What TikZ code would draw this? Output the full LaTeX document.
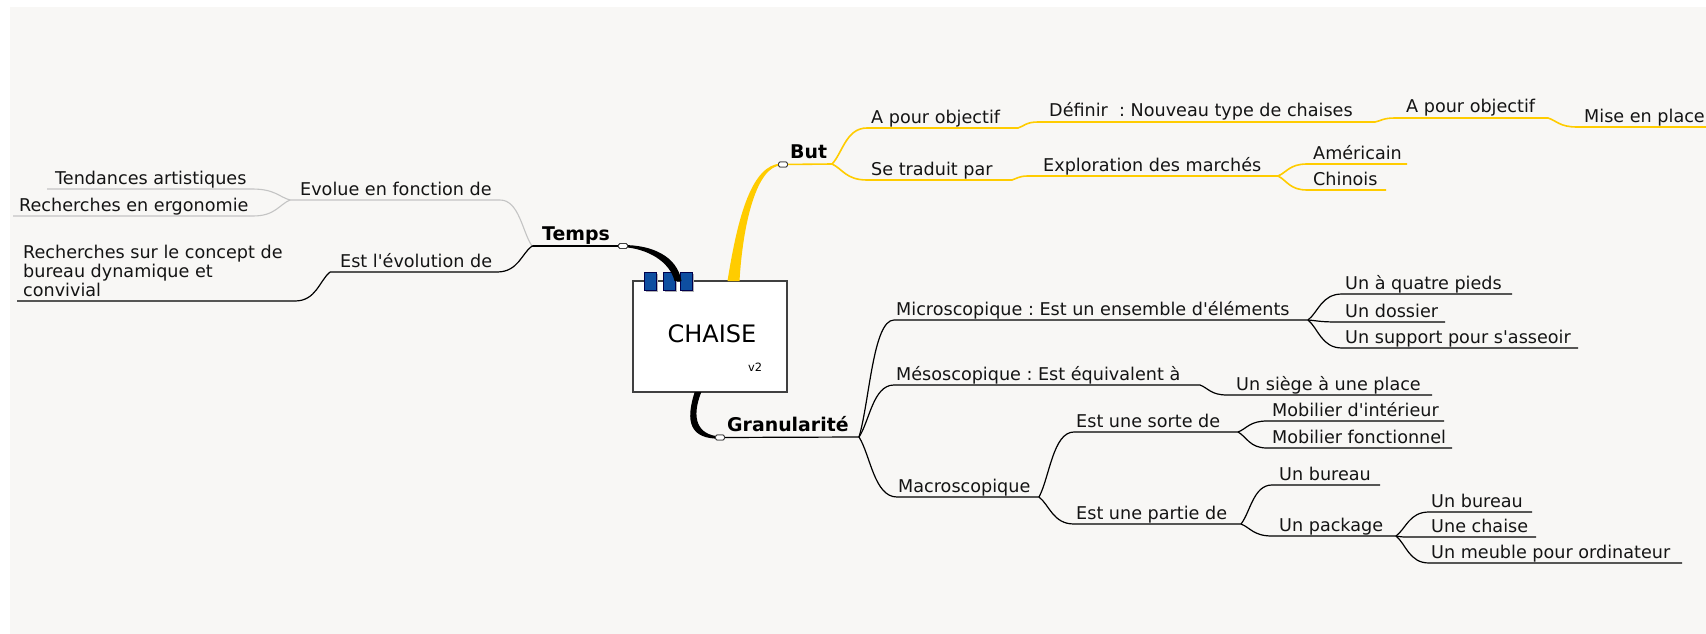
\documentclass[tikz,border=0pt]{standalone}
\usepackage{fontspec}
\setmainfont{DejaVu Sans}[Ligatures=TeXOff]
\usetikzlibrary{calc}
\definecolor{bgc}{RGB}{248,247,245}
\definecolor{yel}{RGB}{255,204,0}
\definecolor{gry}{RGB}{196,196,196}
\definecolor{blu}{RGB}{14,78,160}
\definecolor{txt}{RGB}{20,20,20}
\newcommand\labfont{\fontsize{17.6}{21}\selectfont\frenchspacing}
\newcommand\boldlabfont{\fontsize{18.9}{22}\selectfont\bfseries}
\tikzset{
 lbl/.style={font=\labfont, text=txt, anchor=base west, inner sep=0pt},
 blbl/.style={font=\boldlabfont, text=black, anchor=base west, inner sep=0pt},
 ln/.style={draw=black, line width=1.2pt},
 yl/.style={draw=yel, line width=1.6pt},
 gl/.style={draw=gry, line width=1.1pt},
 br/.style={to path={.. controls ($(\tikztostart)!0.3!(\tikztotarget)$) and ($(\tikztotarget)!0.6!(\tikztostart|-\tikztotarget)$) .. (\tikztotarget) \tikztonodes}},
 knob/.style={draw=black!75, fill=white, rounded corners=1.5pt, minimum width=9pt, minimum height=5pt, inner sep=0pt, line width=0.8pt},
 sqr/.style={draw=black!70!blue, fill=blu, line width=0.8pt},
 sqsh/.style={fill=black!30},
}
\begin{document}
\begin{tikzpicture}[x=1pt,y=-1pt]
\useasboundingbox (0,0) rectangle (1706,634);
\fill[bgc] (10,7) rectangle (1706,634);

% ---------- coordinates ----------
% Temps side
\coordinate (tf) at (532,246);
\coordinate (evL) at (290,200); \coordinate (evR) at (500,200);
\coordinate (taL) at (47,189);  \coordinate (taR) at (252,189);
\coordinate (reL) at (13,216);  \coordinate (reR) at (253,216);
\coordinate (esL) at (330,272); \coordinate (esR) at (497,272);
\coordinate (rcL) at (17,301);  \coordinate (rcR) at (295,301);
% But side
\coordinate (bf) at (832,164);
\coordinate (ap1L) at (867,128); \coordinate (ap1R) at (1018,128);
\coordinate (dfL) at (1038,122); \coordinate (dfR) at (1375,122);
\coordinate (ap2L) at (1395,118); \coordinate (ap2R) at (1548,118);
\coordinate (miL) at (1577,127); \coordinate (miR) at (1706,127);
\coordinate (stL) at (867,180); \coordinate (stR) at (1012,180);
\coordinate (exL) at (1028,176); \coordinate (exR) at (1278,176);
\coordinate (amL) at (1307,164); \coordinate (amR) at (1407,164);
\coordinate (chL) at (1307,190); \coordinate (chR) at (1386,190);
% Granularite side
\coordinate (gf) at (859,437);
\coordinate (micL) at (894,320); \coordinate (micR) at (1308,320);
\coordinate (q4L) at (1342,294); \coordinate (q4R) at (1512,294);
\coordinate (doL) at (1337,322); \coordinate (doR) at (1445,322);
\coordinate (suL) at (1342,348); \coordinate (suR) at (1578,348);
\coordinate (mesL) at (894,385); \coordinate (mesR) at (1200,385);
\coordinate (siL) at (1227,395); \coordinate (siR) at (1432,395);
\coordinate (macL) at (897,497); \coordinate (macR) at (1039,497);
\coordinate (soL) at (1074,432); \coordinate (soR) at (1238,432);
\coordinate (miiL) at (1267,421); \coordinate (miiR) at (1444,421);
\coordinate (mfL) at (1267,448); \coordinate (mfR) at (1452,448);
\coordinate (paL) at (1074,524); \coordinate (paR) at (1241,524);
\coordinate (bu1L) at (1272,485); \coordinate (bu1R) at (1380,485);
\coordinate (pkL) at (1272,536); \coordinate (pkR) at (1396,536);
\coordinate (bu2L) at (1429,512); \coordinate (bu2R) at (1532,512);
\coordinate (ucL) at (1406,537); \coordinate (ucR) at (1536,537);
\coordinate (umL) at (1429,563); \coordinate (umR) at (1682,563);
% central attachment points
\coordinate (tA) at (678,281);
\coordinate (bA) at (733.5,281);
\coordinate (gA) at (698,392);

% ---------- knobs (positions) ----------
\node[knob] (kt) at (623,246) {};
\node[knob] (kb) at (783,164.5) {};
\node[knob] (kg) at (720,437.5) {};

% ---------- branches ----------
% Temps
\draw[ln] (kt) -- (tf);
\draw[gl] (tf) to[br] (evR) -- (evL);
\draw[gl] (evL) to[br] (taR) -- (taL);
\draw[gl] (evL) to[br] (reR) -- (reL);
\draw[ln] (tf) to[br] (esR) -- (esL);
\draw[ln] (esL) to[br] (rcR) -- (rcL);
% But
\draw[yl] (kb) -- (bf);
\draw[yl] (bf) to[br] (ap1L) -- (ap1R) to[br] (dfL) -- (dfR) to[br] (ap2L) -- (ap2R) to[br] (miL) -- (miR);
\draw[yl] (bf) to[br] (stL) -- (stR) to[br] (exL) -- (exR);
\draw[yl] (exR) to[br] (amL) -- (amR);
\draw[yl] (exR) to[br] (chL) -- (chR);
% Granularite
\draw[ln] (kg) -- (gf);
\draw[ln] (gf) to[br] (micL) -- (micR);
\draw[ln] (micR) to[br] (q4L) -- (q4R);
\draw[ln] (micR) to[br] (doL) -- (doR);
\draw[ln] (micR) to[br] (suL) -- (suR);
\draw[ln] (gf) to[br] (mesL) -- (mesR) to[br] (siL) -- (siR);
\draw[ln] (gf) to[br] (macL) -- (macR);
\draw[ln] (macR) to[br] (soL) -- (soR);
\draw[ln] (soR) to[br] (miiL) -- (miiR);
\draw[ln] (soR) to[br] (mfL) -- (mfR);
\draw[ln] (macR) to[br] (paL) -- (paR);
\draw[ln] (paR) to[br] (bu1L) -- (bu1R);
\draw[ln] (paR) to[br] (pkL) -- (pkR);
\draw[ln] (pkR) to[br] (bu2L) -- (bu2R);
\draw[ln] (pkR) to[br] (ucL) -- (ucR);
\draw[ln] (pkR) to[br] (umL) -- (umR);

% ---------- central box ----------
\node[draw=black!75, fill=white, line width=1.2pt, minimum width=154pt, minimum height=111pt, inner sep=0pt] (ch) at (710,336.5) {};
\node[font=\fontsize{24}{26}\selectfont, inner sep=0pt, text=black] (cht) at (712,333.5) {CHAISE};
\node[font=\fontsize{11.4}{13}\selectfont, inner sep=0pt, text=black] (v2) at (755,367) {v2};

% tapered connectors
\fill[yel] ($(bA)+(-6,0)$) .. controls (738,215) and (752,165) .. ($(kb)+(-2,-1)$) -- ($(kb)+(-2,1)$) .. controls (757,166) and (743,222) .. ($(bA)+(6,0)$) -- cycle;
\fill[sqsh] (645.5,273.5) rectangle (657.5,291.5);
\fill[sqsh] (664.5,273.5) rectangle (676.5,291.5);
\fill[sqsh] (681.5,273.5) rectangle (693.5,291.5);
\filldraw[sqr] (644,272) rectangle (656,290);
\filldraw[sqr] (663,272) rectangle (675,290);
\filldraw[sqr] (680,272) rectangle (692,290);
\fill[black] ($(kt)+(0,-1)$) .. controls (652,245) and (677,256) .. ($(tA)+(3.5,0)$) -- ($(tA)+(-3.5,0)$) .. controls (670,262) and (648,248.5) .. ($(kt)+(0,1.1)$) -- cycle;
\fill[black] ($(gA)+(-3.3,0)$) .. controls (685,422) and (690,439) .. ($(kg)+(0,1.2)$) -- ($(kg)+(0,-1)$) .. controls (697,435) and (691,418) .. ($(gA)+(3.3,0)$) -- cycle;
\node[knob] at (kt) {};
\node[knob] at (kb) {};
\node[knob] at (kg) {};

% ---------- labels ----------
\node[blbl] (temps) at (542,240) {Temps};
\node[lbl] (ev) at (300,195) {Evolue en fonction de};
\node[lbl] (ta) at (55,184) {Tendances artistiques};
\node[lbl] (re) at (19,211) {Recherches en ergonomie};
\node[lbl] (es) at (340,267) {Est l'évolution de};
\node[lbl] (rc1) at (23,258) {Recherches sur le concept de};
\node[lbl] (rc2) at (23,277) {bureau dynamique et};
\node[lbl] (rc3) at (23,296) {convivial};

\node[blbl] (but) at (790,158) {But};
\node[lbl] (ap1) at (871,123) {A pour objectif};
\node[lbl] (df) at (1049,117) {Définir~ : Nouveau type de chaises};
\node[lbl] (ap2) at (1406,113) {A pour objectif};
\node[lbl] (mi) at (1584,122) {Mise en place};
\node[lbl] (st) at (871,175) {Se traduit par};
\node[lbl] (ex) at (1043,171) {Exploration des marchés};
\node[lbl] (am) at (1313,159) {Américain};
\node[lbl] (chn) at (1313,185) {Chinois};

\node[blbl] (gran) at (727,431) {Granularité};
\node[lbl] (mic) at (896,315) {Microscopique : Est un ensemble d'éléments};
\node[lbl] (q4) at (1345,289) {Un à quatre pieds};
\node[lbl] (do) at (1345,317) {Un dossier};
\node[lbl] (su) at (1345,343) {Un support pour s'asseoir};
\node[lbl] (mes) at (896,380) {Mésoscopique : Est équivalent à};
\node[lbl] (si) at (1236,390) {Un siège à une place};
\node[lbl] (mac) at (898,492) {Macroscopique};
\node[lbl] (so) at (1076,427) {Est une sorte de};
\node[lbl] (mii) at (1272,416) {Mobilier d'intérieur};
\node[lbl] (mf) at (1272,443) {Mobilier fonctionnel};
\node[lbl] (pa) at (1076,519) {Est une partie de};
\node[lbl] (bu1) at (1279,480) {Un bureau};
\node[lbl] (pk) at (1279,531) {Un package};
\node[lbl] (bu2) at (1431,507) {Un bureau};
\node[lbl] (uc) at (1431,532) {Une chaise};
\node[lbl] (um) at (1431,558) {Un meuble pour ordinateur};
\end{tikzpicture}
\end{document}
